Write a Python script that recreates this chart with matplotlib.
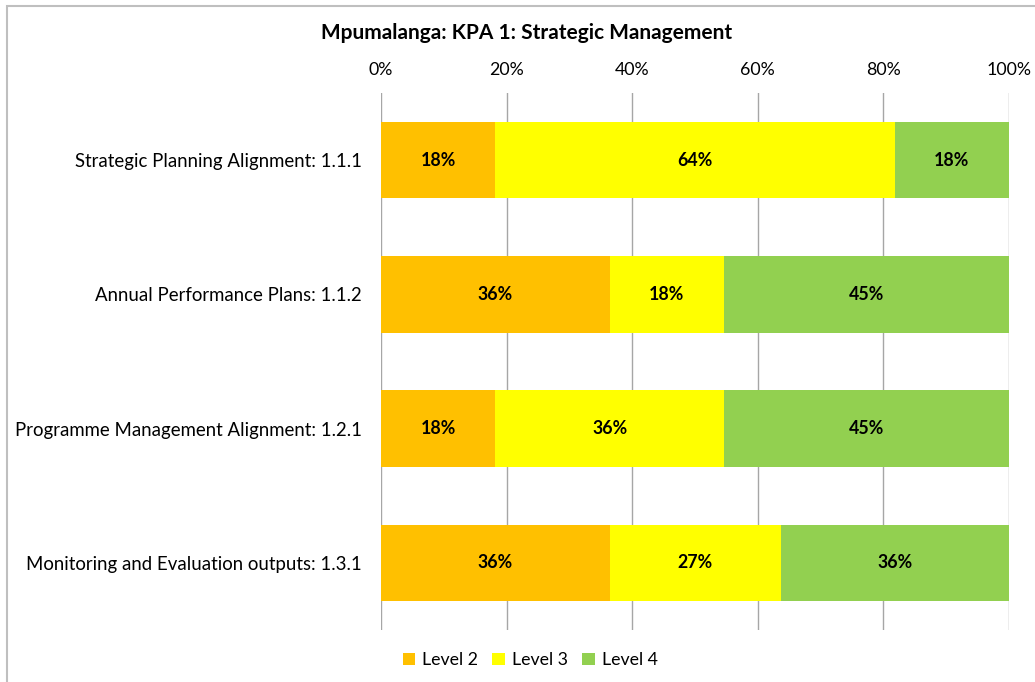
import matplotlib.pyplot as plt
import matplotlib.patches as mpatches
import numpy as np

plt.rcParams['font.family'] = ['Lato', 'DejaVu Sans']

categories = ['Strategic Planning Alignment: 1.1.1',
              'Annual Performance Plans: 1.1.2',
              'Programme Management Alignment: 1.2.1',
              'Monitoring and Evaluation outputs: 1.3.1']
level2 = [18.2, 36.4, 18.2, 36.4]
level3 = [63.6, 18.2, 36.4, 27.3]
level4 = [18.2, 45.4, 45.4, 36.3]
series = [('Level 2', level2, '#FFC000'),
          ('Level 3', level3, '#FFFF00'),
          ('Level 4', level4, '#92D050')]
xticks = [0, 20, 40, 60, 80, 100]

fig = plt.figure(figsize=(10.35, 6.82), dpi=100)
ax = fig.add_axes([381/1035, 1 - 630/682, 628/1035, 537/682])

y = np.arange(len(categories))
left = np.zeros(len(categories))
for name, vals, col in series:
    bars = ax.barh(y, vals, left=left, height=0.57, color=col, label=name, zorder=2)
    for b, v in zip(bars, vals):
        ax.text(b.get_x() + b.get_width() / 2, b.get_y() + b.get_height() / 2,
                '{:.0f}%'.format(v), ha='center', va='center',
                fontsize=12.8, fontweight='bold', zorder=3)
    left += np.array(vals)

ax.set_xlim(0, 100)
ax.set_ylim(3.5, -0.5)
ax.set_yticks(y)
ax.set_yticklabels(categories, fontsize=13.4)
ax.set_xticks(xticks)
ax.set_xticklabels(['{}%'.format(t) for t in xticks], fontsize=12.8)
ax.xaxis.tick_top()
ax.tick_params(axis='x', length=0, pad=11)
ax.tick_params(axis='y', length=0, pad=14)
ax.grid(axis='x', color='#A6A6A6', linewidth=1, zorder=0)
for s in ax.spines.values():
    s.set_visible(False)

fig.text(527/1035, 1 - 33/682, 'Mpumalanga: KPA 1: Strategic Management',
         ha='center', va='center', fontsize=15, fontweight='bold')

fig.legend(loc='center', bbox_to_anchor=(530/1035, 1 - 660/682), ncol=3,
           frameon=False, fontsize=12.8, handlelength=0.7, handleheight=0.7,
           columnspacing=0.8, handletextpad=0.4)

fig.patches.append(mpatches.Rectangle((7/1035, -0.01), 1.02, 1 - 6/682 + 0.01,
                                      transform=fig.transFigure, fill=False,
                                      edgecolor='#BFBFBF', linewidth=1.5))

fig.savefig('out.png', dpi=100)
